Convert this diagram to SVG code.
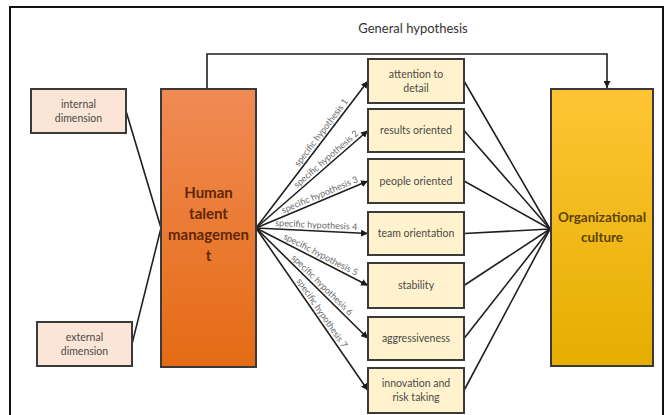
<svg xmlns="http://www.w3.org/2000/svg" width="665" height="415" viewBox="0 0 665 415">
  <defs>
    <linearGradient id="gOrange" x1="0" y1="0" x2="0" y2="1">
      <stop offset="0" stop-color="#F08B55"/>
      <stop offset="1" stop-color="#E56B14"/>
    </linearGradient>
    <linearGradient id="gYellow" x1="0" y1="0" x2="0" y2="1">
      <stop offset="0" stop-color="#FFC535"/>
      <stop offset="1" stop-color="#E5AE00"/>
    </linearGradient>
    <marker id="arr" viewBox="0 0 10 10" refX="10" refY="5" markerWidth="7" markerHeight="7" markerUnits="userSpaceOnUse" orient="auto">
      <path d="M0,0 L10,5 L0,10 z" fill="#1a1a1a"/>
    </marker>
  </defs>
  <style>
    .frame { fill: #ffffff; stroke: #111; stroke-width: 2; }
    .dim { fill: #FBE5D6; stroke: #3a3a3a; stroke-width: 2; }
    .fac { fill: #FFF2CC; stroke: #3a3a3a; stroke-width: 2; }
    .big { stroke: #3a3a3a; stroke-width: 2; }
    .lbl { font-family: Lato, "Liberation Sans", sans-serif; font-size: 10.5px; fill: #4a4a4a; text-anchor: middle; }
    .bigt { font-family: Lato, "Liberation Sans", sans-serif; font-size: 15px; font-weight: bold; text-anchor: middle; }
    .cult { font-size: 13.5px; }
    .hyp { font-family: Lato, "Liberation Sans", sans-serif; font-size: 9px; fill: #6a6a6a; text-anchor: middle; }
    .ln { stroke: #1f1f1f; stroke-width: 1.6; fill: none; }
    .title { font-family: Lato, "Liberation Sans", sans-serif; font-size: 13px; fill: #333; text-anchor: middle; }
  </style>

  <rect class="frame" x="10" y="7" width="653" height="420"/>

  <text class="title" x="413" y="33">General hypothesis</text>

  <g id="connectors">
    <path class="ln" d="M207,89 V54 H607 V88" marker-end="url(#arr)"/>
    <line class="ln" x1="126" y1="111" x2="161" y2="228"/>
    <line class="ln" x1="132" y1="344" x2="161" y2="228"/>
    <line class="ln" x1="256" y1="228" x2="368" y2="81" marker-end="url(#arr)"/>
    <line class="ln" x1="256" y1="228" x2="368" y2="130.5" marker-end="url(#arr)"/>
    <line class="ln" x1="256" y1="228" x2="368" y2="181" marker-end="url(#arr)"/>
    <line class="ln" x1="256" y1="228" x2="368" y2="233.5" marker-end="url(#arr)"/>
    <line class="ln" x1="256" y1="228" x2="368" y2="285.5" marker-end="url(#arr)"/>
    <line class="ln" x1="256" y1="228" x2="368" y2="338.5" marker-end="url(#arr)"/>
    <line class="ln" x1="256" y1="228" x2="368" y2="390.5" marker-end="url(#arr)"/>
    <line class="ln" x1="464" y1="81" x2="550" y2="229"/>
    <line class="ln" x1="464" y1="130.5" x2="550" y2="229"/>
    <line class="ln" x1="464" y1="181" x2="550" y2="229"/>
    <line class="ln" x1="464" y1="233.5" x2="550" y2="229"/>
    <line class="ln" x1="464" y1="285.5" x2="550" y2="229"/>
    <line class="ln" x1="464" y1="338.5" x2="550" y2="229"/>
    <line class="ln" x1="464" y1="390.5" x2="550" y2="229"/>
    <text class="hyp" transform="translate(326,136.1) rotate(-52.7)" y="-3">specific hypothesis 1</text>
    <text class="hyp" transform="translate(330,163.6) rotate(-41.05)" y="-3">specific hypothesis 2</text>
    <text class="hyp" transform="translate(322,200.3) rotate(-22.76)" y="-3">specific hypothesis 3</text>
    <text class="hyp" transform="translate(316,230.9) rotate(2.81)" y="-3">specific hypothesis 4</text>
    <text class="hyp" transform="translate(318,259.8) rotate(27.18)" y="-3">specific hypothesis 5</text>
    <text class="hyp" transform="translate(318,289.2) rotate(44.6)" y="-3">specific hypothesis 6</text>
    <text class="hyp" transform="translate(317,316.5) rotate(55.4)" y="-3">specific hypothesis 7</text>
  </g>

  <g id="internal">
    <rect class="dim" x="31" y="89" width="95" height="44"/>
    <text class="lbl" x="78.5" y="108">internal</text>
    <text class="lbl" x="78.5" y="122">dimension</text>
  </g>
  <g id="external">
    <rect class="dim" x="37" y="322" width="95" height="44"/>
    <text class="lbl" x="84.5" y="341">external</text>
    <text class="lbl" x="84.5" y="355">dimension</text>
  </g>
  <g id="htm">
    <rect class="big" x="161" y="89" width="95" height="278" fill="url(#gOrange)"/>
    <text class="bigt" fill="#5e2806" x="208.5" y="198">Human</text>
    <text class="bigt" fill="#5e2806" x="208.5" y="219">talent</text>
    <text class="bigt" fill="#5e2806" x="208.5" y="240">managemen</text>
    <text class="bigt" fill="#5e2806" x="208.5" y="261">t</text>
  </g>
  <g id="attention">
    <rect class="fac" x="368" y="59" width="96" height="44"/>
    <text class="lbl" x="416" y="78">attention to</text>
    <text class="lbl" x="416" y="92">detail</text>
  </g>
  <g id="results">
    <rect class="fac" x="368" y="109" width="96" height="43"/>
    <text class="lbl" x="416" y="134">results oriented</text>
  </g>
  <g id="people">
    <rect class="fac" x="368" y="159" width="96" height="44"/>
    <text class="lbl" x="416" y="185">people oriented</text>
  </g>
  <g id="team">
    <rect class="fac" x="368" y="212" width="96" height="43"/>
    <text class="lbl" x="416" y="237">team orientation</text>
  </g>
  <g id="stability">
    <rect class="fac" x="368" y="263" width="96" height="45"/>
    <text class="lbl" x="416" y="289">stability</text>
  </g>
  <g id="aggressiveness">
    <rect class="fac" x="368" y="317" width="96" height="43"/>
    <text class="lbl" x="416" y="342">aggressiveness</text>
  </g>
  <g id="innovation">
    <rect class="fac" x="368" y="368" width="96" height="45"/>
    <text class="lbl" x="416" y="387">innovation and</text>
    <text class="lbl" x="416" y="401">risk taking</text>
  </g>
  <g id="culture">
    <rect class="big" x="551" y="89" width="102" height="277" fill="url(#gYellow)"/>
    <text class="bigt cult" fill="#5a4300" x="602" y="222">Organizational</text>
    <text class="bigt cult" fill="#5a4300" x="602" y="242">culture</text>
  </g>
</svg>
